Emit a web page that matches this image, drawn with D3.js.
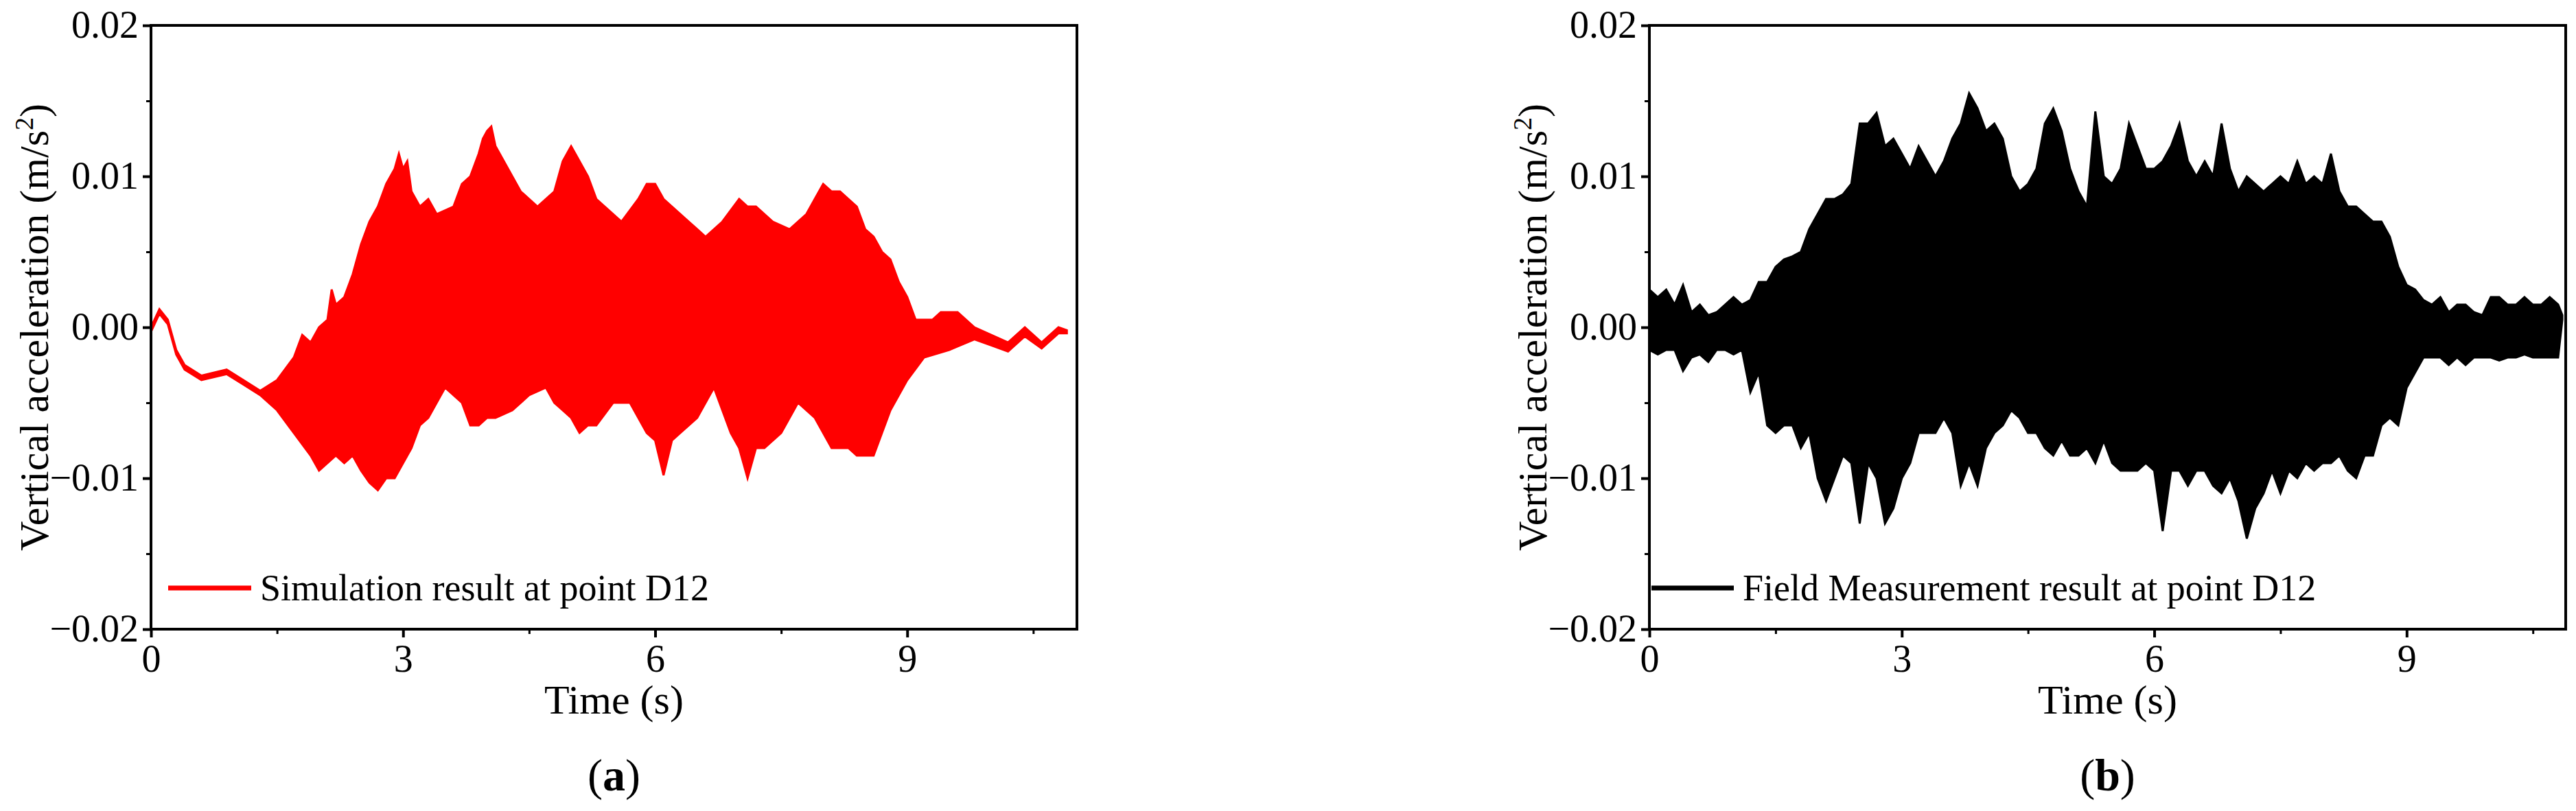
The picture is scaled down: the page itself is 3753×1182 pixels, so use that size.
<!DOCTYPE html>
<html><head><meta charset="utf-8">
<script src="https://cdn.jsdelivr.net/npm/d3@7/dist/d3.min.js"></script>
<style>body{margin:0;background:#fff}text{font-family:"Liberation Serif","Times New Roman",serif}</style>
</head><body><svg id="c" width="3753" height="1182"></svg>
<script>
// values in units of 0.001 m/s^2
const simUpper=[[0,0],[0.1,1.2],[0.2,0.5],[0.3,-1.5],[0.4,-2.5],[0.6,-3.2],[0.9,-2.8],[1.1,-3.5],[1.3,-4.2],[1.5,-3.5],[1.7,-2],[1.8,-0.5],[1.9,-1],[2.0,0],[2.1,0.5],[2.15,2.5],[2.2,1.5],[2.3,2],[2.4,3.5],[2.5,5.5],[2.6,7],[2.7,8],[2.8,9.5],[2.9,10.5],[2.95,11.5],[3.0,10.5],[3.05,11],[3.1,9],[3.2,8],[3.3,8.5],[3.4,7.5],[3.6,8],[3.7,9.5],[3.8,10],[3.9,11.5],[3.95,12.5],[4.0,13],[4.05,13.3],[4.1,12],[4.2,11],[4.3,10],[4.4,9],[4.6,8],[4.8,9],[4.9,11],[5.0,12],[5.05,11.5],[5.2,10],[5.3,8.5],[5.4,8],[5.6,7],[5.8,8.5],[5.9,9.5],[6.0,9.5],[6.1,8.5],[6.2,8],[6.4,7],[6.6,6],[6.8,7],[7.0,8.5],[7.1,8],[7.2,8],[7.4,7],[7.6,6.5],[7.8,7.5],[7.9,8.5],[8.0,9.5],[8.1,9],[8.2,9],[8.3,8.5],[8.4,8],[8.5,6.5],[8.6,6],[8.7,5],[8.8,4.5],[8.9,3],[9.0,2],[9.1,0.5],[9.3,0.5],[9.4,1],[9.6,1],[9.8,0],[10.0,-0.5],[10.2,-1],[10.4,0],[10.6,-1],[10.8,0],[10.9,-0.2]];
const simLower=[[0,-0.3],[0.1,0.9],[0.2,0.2],[0.3,-1.8],[0.4,-2.8],[0.6,-3.5],[0.9,-3.1],[1.1,-3.8],[1.3,-4.5],[1.5,-5.5],[1.7,-7],[1.9,-8.5],[2.0,-9.5],[2.1,-9],[2.2,-8.5],[2.3,-9],[2.4,-8.5],[2.5,-9.5],[2.6,-10.3],[2.7,-10.8],[2.8,-10],[2.9,-10],[3.0,-9],[3.1,-8],[3.2,-6.5],[3.3,-6],[3.4,-5],[3.5,-4],[3.7,-5],[3.8,-6.5],[3.9,-6.5],[4.0,-6],[4.1,-6],[4.3,-5.5],[4.5,-4.5],[4.7,-4],[4.8,-5],[4.9,-5.5],[5.0,-6],[5.1,-7],[5.2,-6.5],[5.3,-6.5],[5.5,-5],[5.7,-5],[5.9,-7],[6.0,-7.5],[6.1,-9.8],[6.2,-7.5],[6.3,-7],[6.5,-6],[6.7,-4],[6.9,-7],[7.0,-8],[7.1,-10],[7.2,-8],[7.3,-8],[7.5,-7],[7.7,-5],[7.9,-6],[8.1,-8],[8.3,-8],[8.4,-8.5],[8.6,-8.5],[8.7,-7],[8.8,-5.5],[9.0,-3.5],[9.2,-2],[9.5,-1.5],[9.8,-0.8],[10.0,-1.2],[10.2,-1.6],[10.4,-0.6],[10.6,-1.4],[10.8,-0.4],[10.9,-0.4]];
const meaUpper=[[0,2.5],[0.1,2],[0.2,2.5],[0.3,1.5],[0.4,2.8],[0.5,1],[0.6,1.5],[0.7,0.8],[0.8,1],[0.9,1.5],[1.0,2],[1.1,1.5],[1.2,1.8],[1.3,3],[1.4,3],[1.5,4],[1.6,4.5],[1.7,4.7],[1.8,5],[1.9,6.5],[2.0,7.5],[2.1,8.5],[2.2,8.5],[2.3,8.8],[2.4,9.5],[2.5,13.5],[2.6,13.5],[2.7,14.2],[2.8,12],[2.9,12.5],[3.0,11.5],[3.1,10.5],[3.2,12],[3.3,11],[3.4,10],[3.5,11],[3.6,12.5],[3.7,13.5],[3.8,15.5],[3.9,14.5],[4.0,13],[4.1,13.5],[4.2,12.5],[4.3,10],[4.4,9],[4.5,9.5],[4.6,10.5],[4.7,13.5],[4.8,14.5],[4.9,13],[5.0,10.5],[5.1,9],[5.2,8],[5.3,14.3],[5.4,10],[5.5,9.5],[5.6,10.5],[5.7,13.5],[5.8,12],[5.9,10.5],[6.0,10.5],[6.1,11],[6.2,12],[6.3,13.5],[6.4,11],[6.5,10],[6.6,11],[6.7,10],[6.8,13.5],[6.9,10.5],[7.0,9],[7.1,10],[7.2,9.5],[7.3,9],[7.4,9.5],[7.5,10],[7.6,9.5],[7.7,11],[7.8,9.5],[7.9,10],[8.0,9.5],[8.1,11.5],[8.2,9],[8.3,8],[8.4,8],[8.5,7.5],[8.6,7],[8.7,7],[8.8,6],[8.9,4],[9.0,2.8],[9.1,2.5],[9.2,1.8],[9.3,1.5],[9.4,2],[9.5,1],[9.6,1.5],[9.7,1.5],[9.8,1],[9.9,0.8],[10.0,2],[10.1,2],[10.2,1.5],[10.3,1.5],[10.4,2],[10.5,1.5],[10.6,1.5],[10.7,2],[10.8,1.5],[10.85,0.8]];
const meaLower=[[0,-1.5],[0.1,-1.8],[0.2,-1.5],[0.3,-1.5],[0.4,-2.9],[0.5,-2],[0.6,-1.8],[0.7,-2.3],[0.8,-1.5],[0.9,-1.5],[1.0,-1.8],[1.1,-1.5],[1.2,-4.3],[1.3,-3],[1.4,-6.5],[1.5,-7],[1.6,-6.5],[1.7,-6.5],[1.8,-8],[1.9,-7],[2.0,-10],[2.1,-11.5],[2.2,-10],[2.3,-8.5],[2.4,-9],[2.5,-13],[2.6,-9],[2.7,-10],[2.8,-13],[2.9,-12],[3.0,-10],[3.1,-9],[3.2,-7],[3.3,-7],[3.4,-7],[3.5,-6],[3.6,-7],[3.7,-10.5],[3.8,-9],[3.9,-10.5],[4.0,-8],[4.1,-7],[4.2,-6.5],[4.3,-5.5],[4.4,-6],[4.5,-7],[4.6,-7],[4.7,-8],[4.8,-8.5],[4.9,-7.5],[5.0,-8.5],[5.1,-8.5],[5.2,-8],[5.3,-9],[5.4,-7.5],[5.5,-9],[5.6,-9.5],[5.7,-9.5],[5.8,-9.5],[5.9,-9],[6.0,-9.5],[6.1,-13.5],[6.2,-9.5],[6.3,-9.5],[6.4,-10.5],[6.5,-9.5],[6.6,-9.5],[6.7,-10.5],[6.8,-11],[6.9,-10],[7.0,-11.5],[7.1,-14],[7.2,-12],[7.3,-11],[7.4,-9.5],[7.5,-11],[7.6,-9.5],[7.7,-10],[7.8,-9],[7.9,-9.5],[8.0,-9],[8.1,-9],[8.2,-8.5],[8.3,-9.5],[8.4,-10],[8.5,-8.5],[8.6,-8.5],[8.7,-6.5],[8.8,-6],[8.9,-6.5],[9.0,-4],[9.1,-3],[9.2,-2],[9.3,-2],[9.4,-2],[9.5,-2.5],[9.6,-2],[9.7,-2.5],[9.8,-2],[9.9,-2],[10.0,-2],[10.1,-2.2],[10.2,-2],[10.3,-2],[10.4,-1.8],[10.5,-2],[10.6,-2],[10.7,-2],[10.8,-2],[10.85,0.5]];
const xTicks=[0,3,6,9];
const yTicks=[-0.02,-0.01,0,0.01,0.02];
const yTickLabels=["\u22120.02","\u22120.01","0.00","0.01","0.02"];

const svg=d3.select("#c");
const panels=[
 {left:220,right:1569,xmax:11.02,up:simUpper,lo:simLower,color:"#ff0000",legend:"Simulation result at point D12",tag:"a",legX:[245,366]},
 {left:2403,right:3738,xmax:10.89,up:meaUpper,lo:meaLower,color:"#000000",legend:"Field Measurement result at point D12",tag:"b",legX:[2406,2526]}
];
const plotTop=37,plotBottom=917;
panels.forEach(p=>{
 const x=d3.scaleLinear().domain([0,p.xmax]).range([p.left,p.right]);
 const y=d3.scaleLinear().domain([-0.02,0.02]).range([plotBottom,plotTop]);
 const g=svg.append("g");
 const pts=p.up.map(d=>[d[0],d[1]/1000]).concat(p.lo.slice().reverse().map(d=>[d[0],d[1]/1000]));
 const line=d3.line().x(d=>x(d[0])).y(d=>y(d[1]));
 g.append("path").attr("d",line(pts)+"Z").attr("fill",p.color).attr("stroke",p.color).attr("stroke-width",3).attr("stroke-linejoin","miter");
 g.append("rect").attr("x",p.left).attr("y",plotTop).attr("width",p.right-p.left).attr("height",plotBottom-plotTop).attr("fill","none").attr("stroke","#000").attr("stroke-width",4);
 const xa=g.append("g").attr("transform",`translate(0,${plotBottom})`).call(d3.axisBottom(x).tickValues(xTicks).tickFormat(d3.format("d")).tickSize(12).tickPadding(10));
 g.append("g").attr("transform",`translate(0,${plotBottom})`).call(d3.axisBottom(x).tickValues([1.5,4.5,7.5,10.5]).tickFormat("").tickSize(7)).call(s=>s.select(".domain").remove()).selectAll("line").attr("stroke-width",3);
 const ya=g.append("g").attr("transform",`translate(${p.left},0)`).call(d3.axisLeft(y).tickValues(yTicks).tickFormat((d,i)=>yTickLabels[i]).tickSize(12).tickPadding(6));
 g.append("g").attr("transform",`translate(${p.left},0)`).call(d3.axisLeft(y).tickValues([-0.015,-0.005,0.005,0.015]).tickFormat("").tickSize(7)).call(s=>s.select(".domain").remove()).selectAll("line").attr("stroke-width",3);
 [xa,ya].forEach(a=>{a.select(".domain").remove();a.selectAll("line").attr("stroke-width",4);a.selectAll("text").attr("font-size",56).attr("fill","#000").style("font-family","Liberation Serif");});
 g.append("text").attr("x",(p.left+p.right)/2).attr("y",1040).attr("text-anchor","middle").attr("font-size",60).text("Time (s)");
 const yl=g.append("text").attr("transform",`translate(${p.left-150},${(plotTop+plotBottom)/2}) rotate(-90)`).attr("text-anchor","middle").attr("font-size",60);
 yl.append("tspan").text("Vertical acceleration (m/s");
 yl.append("tspan").attr("font-size",38).attr("dy",-22).text("2");
 yl.append("tspan").attr("dy",22).text(")");
 g.append("line").attr("x1",p.legX[0]).attr("x2",p.legX[1]).attr("y1",857).attr("y2",857).attr("stroke",p.color).attr("stroke-width",7);
 g.append("text").attr("x",p.legX[1]+13).attr("y",875).attr("font-size",54).text(p.legend);
 const t=g.append("text").attr("x",(p.left+p.right)/2).attr("y",1152).attr("text-anchor","middle").attr("font-size",66);
 t.append("tspan").text("(");t.append("tspan").attr("font-weight","bold").text(p.tag);t.append("tspan").text(")");
});
</script></body></html>
